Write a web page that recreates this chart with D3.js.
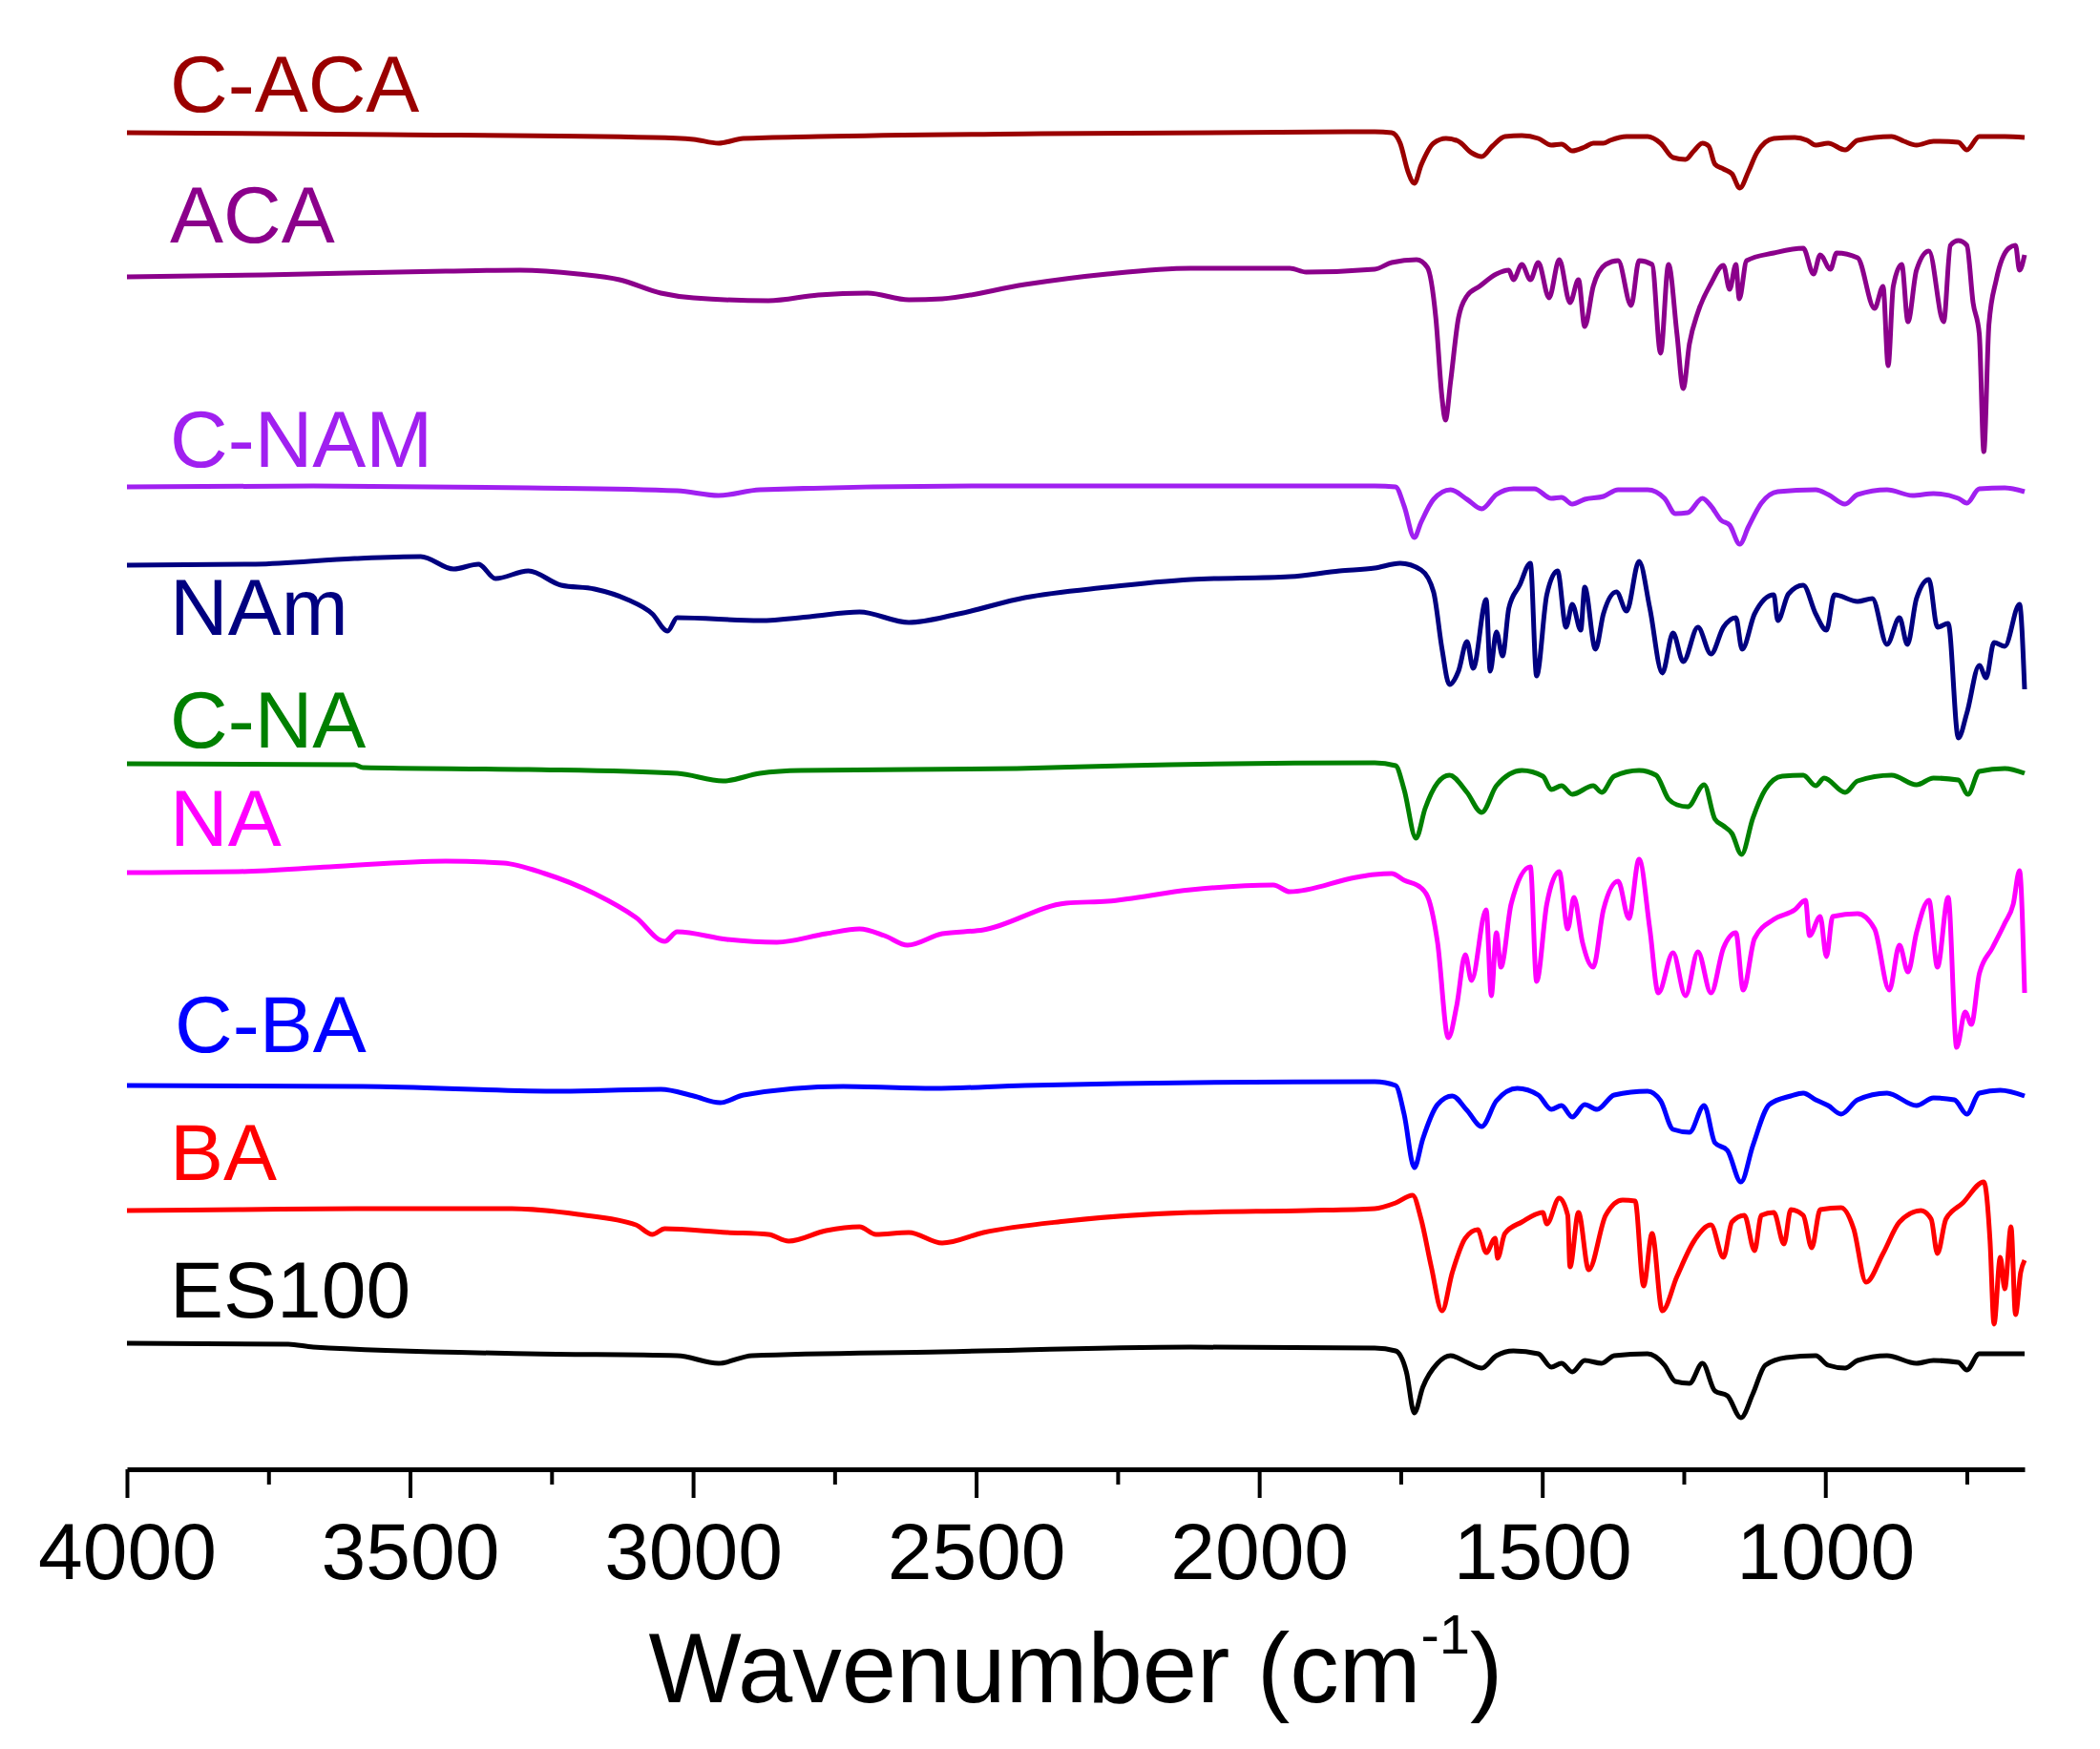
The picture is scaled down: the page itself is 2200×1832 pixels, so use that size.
<!DOCTYPE html>
<html>
<head>
<meta charset="utf-8">
<script src="https://cdn.jsdelivr.net/npm/d3@7"></script>
<style>
  html, body { margin: 0; padding: 0; background: #ffffff; }
  svg { display: block; }
</style>
</head>
<body>
<svg id="chart" width="2200" height="1832"></svg>
<script>
// ---------- DATA (wavenumber cm-1, stacked transmittance in a.u.) ----------
const seriesNames = ["C-ACA", "ACA", "C-NAM", "NAm", "C-NA", "NA", "C-BA", "BA", "ES100"];
const seriesColors = ["#9a0000", "#8b008b", "#a020f0", "#000080", "#008000", "#ff00ff", "#0000ff", "#ff0000", "#000000"];
const labelLevels = [142.3, 128.6, 105.1, 87.5, 75.7, 65.4, 43.8, 30.4, 16.0];

const xTicksMajor = [4000, 3500, 3000, 2500, 2000, 1500, 1000];
const xTicksMinor = [3750, 3250, 2750, 2250, 1750, 1250, 750];
const xTitle = "Wavenumber (cm";
const xTitleSup = "-1";

const specCACA = [[4000,140.1],[3540,139.9],[3072,139.6],[2999,139.4],[2955,139.0],[2911,139.5],[2779,139.7],[2385,140],[1796,140.2],[1766,140.1],[1751,139],[1737,136],[1726,134.8],[1714,136.7],[1692,139],[1670,139.5],[1648,139.2],[1625,138],[1607,137.6],[1588,138.7],[1566,139.7],[1536,139.8],[1507,139.5],[1484,138.8],[1466,138.9],[1447,138.2],[1425,138.6],[1410,139],[1392,139],[1380,139.3],[1351,139.7],[1314,139.7],[1291,139],[1269,137.5],[1247,137.3],[1232,138.2],[1217,139],[1206,138.7],[1195,136.8],[1180,136.3],[1165,135.8],[1151,134.3],[1136,136],[1121,138],[1091,139.5],[1054,139.6],[1032,139.3],[1017,138.8],[995,139],[965,138.3],[943,139.3],[883,139.7],[861,139.2],[839,138.8],[809,139.2],[765,139.1],[750,138.3],[728,139.7],[683,139.7],[648,139.6]];

const specACA = [[4000,125.0],[3759,125.2],[3437,125.6],[3306,125.7],[3203,125.3],[3130,124.7],[3057,123.3],[2999,122.8],[2867,122.5],[2779,123.1],[2692,123.3],[2619,122.6],[2560,122.7],[2414,124.2],[2268,125.3],[2121,125.9],[1946,125.9],[1917,125.5],[1796,125.8],[1766,126.5],[1722,126.8],[1703,126],[1688,120.7],[1677,112.3],[1671,110],[1662,114],[1648,120.7],[1633,123],[1611,124],[1581,125.3],[1559,125.7],[1551,124.7],[1536,126.3],[1521,124.7],[1507,126.5],[1488,122.8],[1470,126.8],[1451,122.3],[1436,124.7],[1425,119.8],[1410,124],[1388,126.3],[1366,126.7],[1343,122],[1329,126.7],[1306,126.3],[1291,117],[1277,126.3],[1262,119],[1251,113.3],[1240,118],[1225,121.3],[1202,124.3],[1180,126.2],[1169,123.7],[1158,126.3],[1152,122.7],[1139,126.7],[1091,127.5],[1039,128],[1021,125.3],[1009,127.3],[991,125.8],[980,127.5],[943,127],[913,121.7],[898,124],[889,115.7],[880,124],[865,126.3],[854,120.3],[839,125.7],[817,127.7],[791,120.3],[779,128.3],[765,128.8],[750,128.3],[739,122.3],[728,119],[720,106.7],[711,120],[698,124.7],[676,128],[664,128.3],[657,125.7],[648,127.3]];

const specCNAM = [[4000,103],[3671,103.1],[3291,102.9],[3028,102.6],[2955,102.1],[2882,102.7],[2487,103.1],[1796,103.1],[1759,103],[1744,101],[1726,97.7],[1714,99.3],[1692,101.7],[1662,102.7],[1633,101.7],[1607,100.7],[1581,102.2],[1551,102.8],[1514,102.8],[1484,101.8],[1466,101.9],[1447,101.2],[1425,101.7],[1392,102],[1366,102.7],[1314,102.7],[1284,101.8],[1265,100.2],[1243,100.3],[1217,101.8],[1202,101],[1184,99.5],[1169,99],[1151,97],[1136,98.8],[1113,101.3],[1084,102.5],[1017,102.7],[995,102.2],[965,101.2],[943,102.2],[891,102.7],[846,102.1],[809,102.3],[765,101.8],[750,101.3],[728,102.8],[683,102.9],[648,102.5]];

const specNAm = [[4000,94.8],[3773,94.9],[3598,95.5],[3481,95.7],[3423,94.4],[3379,94.9],[3349,93.4],[3291,94.2],[3233,92.7],[3174,92.3],[3116,91.2],[3072,89.7],[3045,87.9],[3028,89.3],[2882,89],[2794,89.4],[2706,89.9],[2619,88.8],[2531,89.7],[2414,91.4],[2268,92.5],[2121,93.3],[1946,93.6],[1858,94.2],[1796,94.5],[1751,95],[1714,94.3],[1692,92],[1677,86],[1664,82.3],[1648,83.7],[1633,86.8],[1622,84],[1599,91.2],[1592,83.7],[1581,87.8],[1570,85.3],[1559,90.3],[1540,92.7],[1521,95],[1510,83.2],[1492,91.7],[1473,94.2],[1458,88.3],[1447,90.7],[1432,88],[1425,92.5],[1406,86],[1392,89.7],[1369,92],[1351,90],[1329,95.2],[1310,90.3],[1288,83.5],[1269,87.7],[1251,84.7],[1225,88.3],[1202,85.5],[1180,88.3],[1158,89.3],[1147,86],[1125,89.7],[1091,91.7],[1084,89],[1065,91.8],[1039,92.7],[1017,89.7],[998,88],[984,91.7],[943,91],[917,91.3],[891,86.5],[869,89.3],[855,86.5],[839,91.3],[817,93.3],[802,88.3],[783,88.7],[765,76.7],[750,79.3],[728,84.3],[716,83],[702,86.7],[683,86.3],[657,90.7],[648,81.8]];

const specCNA = [[4000,74],[3598,73.9],[3583,73.6],[3291,73.4],[3028,73],[2947,72.2],[2882,73],[2809,73.3],[2428,73.5],[2238,73.8],[1796,74.1],[1759,73.8],[1744,71.3],[1723,66.2],[1707,69.3],[1685,72],[1664,72.8],[1633,71],[1607,68.9],[1581,71.7],[1536,73.3],[1499,72.7],[1484,71.3],[1466,71.7],[1447,70.8],[1410,71.7],[1395,71],[1373,72.7],[1329,73.3],[1299,72.8],[1277,70.3],[1262,69.7],[1243,69.5],[1214,71.8],[1195,68.2],[1180,67.5],[1165,66.7],[1148,64.5],[1128,68.3],[1106,71.3],[1076,72.7],[1039,72.8],[1017,71.7],[1002,72.5],[965,71],[943,72.2],[883,72.8],[839,71.8],[809,72.5],[765,72.3],[748,70.8],[728,73.2],[683,73.5],[648,73]];

const specNA = [[4000,62.6],[3803,62.7],[3642,63.2],[3437,63.8],[3335,63.6],[3262,62.5],[3174,60.4],[3101,57.9],[3050,55.4],[3028,56.4],[2940,55.6],[2852,55.3],[2765,56.2],[2706,56.7],[2662,56],[2621,55],[2560,56.2],[2487,56.6],[2341,59.4],[2268,59.6],[2121,60.8],[1975,61.3],[1946,60.6],[1829,62.1],[1796,62.4],[1766,62.5],[1744,61.8],[1714,61],[1700,59.7],[1685,55.3],[1666,45.3],[1651,48.7],[1636,54],[1625,51.3],[1599,58.7],[1590,49.7],[1581,56.3],[1573,52.7],[1555,59.3],[1521,63.2],[1510,51.2],[1492,59.3],[1470,62.7],[1455,56.7],[1444,60],[1429,55.3],[1410,52.7],[1392,58.7],[1366,61.7],[1347,57.8],[1329,64],[1310,56.7],[1295,50],[1269,54.2],[1247,49.7],[1225,54.3],[1202,50],[1180,54.7],[1158,56.3],[1145,50.3],[1125,55.7],[1091,57.7],[1054,58.7],[1035,59.7],[1028,56],[1009,58],[998,53.8],[987,58],[943,58.3],[913,56.7],[887,50.3],[869,55],[854,52.2],[839,56.3],[817,59.7],[802,52.7],[783,60],[768,44.3],[753,48],[742,46.7],[728,52],[705,54.7],[683,57.3],[668,59.3],[657,62.8],[648,50]];

const specCBA = [[4000,40.3],[3583,40.2],[3233,39.7],[3057,39.9],[2999,39.2],[2952,38.5],[2911,39.3],[2735,40.2],[2575,40],[2414,40.3],[1796,40.7],[1759,40.3],[1744,37.3],[1726,31.7],[1711,34.7],[1685,38.3],[1659,39.2],[1633,37.7],[1607,36],[1581,38.7],[1544,40],[1507,39.3],[1484,37.8],[1466,38.2],[1447,37],[1425,38.3],[1403,37.8],[1373,39.3],[1314,39.7],[1291,38.7],[1269,35.7],[1240,35.4],[1214,38.2],[1195,34.3],[1173,33.5],[1149,30.2],[1128,34],[1099,38.3],[1061,39.2],[1039,39.5],[1017,38.8],[995,38.2],[972,37.3],[943,38.8],[891,39.5],[839,38.2],[809,39],[772,38.8],[750,37.3],[728,39.5],[691,39.8],[648,39.2]];

const specBA = [[4000,27.2],[3803,27.3],[3583,27.4],[3320,27.4],[3203,26.8],[3101,25.7],[3072,24.7],[3050,25.3],[2940,24.9],[2867,24.7],[2831,24],[2765,25.1],[2706,25.5],[2677,24.7],[2619,24.9],[2560,23.8],[2487,24.9],[2341,26.1],[2121,27],[1917,27.2],[1796,27.4],[1759,28],[1729,28.8],[1714,26.3],[1696,21.3],[1677,16.7],[1659,20.7],[1636,24.3],[1614,25.2],[1599,22.8],[1583,24.3],[1579,22.2],[1566,24.8],[1536,26],[1499,27],[1492,25.8],[1470,28.5],[1455,26.7],[1451,21.3],[1436,27],[1418,21],[1388,26.7],[1358,28.3],[1336,28.2],[1321,19.3],[1306,24.8],[1288,16.7],[1262,20.3],[1232,24],[1202,25.7],[1180,22.3],[1165,26],[1143,26.7],[1125,23],[1113,26.7],[1091,27],[1073,23.7],[1061,27.3],[1039,26.7],[1024,23.3],[1009,27.3],[972,27.5],[950,25.3],[928,19.7],[898,22.7],[869,26],[831,27.2],[813,26.3],[802,22.7],[787,26.3],[757,28],[720,30.2],[709,24],[702,15.3],[691,22.3],[683,19],[672,25.5],[664,16.3],[655,20.7],[648,22]];

const specES100 = [[4000,13.3],[3715,13.2],[3671,12.9],[3291,12.2],[3028,12],[2955,11.2],[2896,12],[2560,12.4],[2121,12.9],[1796,12.8],[1759,12.5],[1740,10.3],[1726,6],[1711,8.7],[1685,11.2],[1662,12],[1633,11.3],[1607,10.7],[1581,12],[1551,12.5],[1507,12.2],[1484,10.8],[1466,11.2],[1447,10.3],[1425,11.5],[1395,11.2],[1373,12],[1314,12.2],[1284,11],[1265,9.3],[1240,9.1],[1217,11.2],[1195,8.3],[1173,7.8],[1149,5.5],[1128,8],[1106,11],[1069,11.8],[1017,12],[995,11],[965,10.7],[943,11.5],[891,12],[839,11.2],[809,11.5],[765,11.3],[750,10.5],[728,12.2],[648,12.2]];

const spectra = [specCACA, specACA, specCNAM, specNAm, specCNA, specNA, specCBA, specBA, specES100];

// ---------- LAYOUT ----------
const W = 2200, H = 1832;
const left = 133, right = 2121, axisY = 1539;
const fontFam = "'Liberation Sans', Arial, 'Helvetica', sans-serif";

const svg = d3.select("#chart");
svg.append("rect").attr("width", W).attr("height", H).attr("fill", "#ffffff");

const x = d3.scaleLinear().domain([4000, 648]).range([left, right]);
const y = d3.scaleLinear().domain([0, 154]).range([1540, 0]);

const line = d3.line().x(d => x(d[0])).y(d => y(d[1])).curve(d3.curveMonotoneX);

const g = svg.append("g");
spectra.forEach((s, i) => {
  g.append("path")
    .datum(s)
    .attr("d", line)
    .attr("fill", "none")
    .attr("stroke", seriesColors[i])
    .attr("stroke-width", 5)
    .attr("stroke-linejoin", "round")
    .attr("stroke-linecap", "butt");
});

// Series labels
seriesNames.forEach((name, i) => {
  svg.append("text")
    .attr("x", name === "C-BA" ? 183 : 178)
    .attr("y", y(labelLevels[i]))
    .attr("fill", seriesColors[i])
    .attr("font-family", fontFam)
    .attr("font-size", 84)
    .text(name);
});

// X axis (major)
const axisMajor = d3.axisBottom(x).tickValues(xTicksMajor).tickSize(30).tickSizeOuter(0).tickPadding(25)
  .tickFormat(d3.format("d"));
const ax = svg.append("g").attr("transform", `translate(0,${axisY})`).call(axisMajor);
ax.select(".domain").attr("stroke", "#000").attr("stroke-width", 5);
ax.selectAll(".tick line").attr("stroke", "#000").attr("stroke-width", 4);
ax.selectAll(".tick text")
  .attr("fill", "#000")
  .attr("font-family", fontFam)
  .attr("font-size", 84);

// X axis (minor)
const axisMinor = d3.axisBottom(x).tickValues(xTicksMinor).tickSize(16).tickSizeOuter(0).tickFormat("");
const axm = svg.append("g").attr("transform", `translate(0,${axisY})`).call(axisMinor);
axm.select(".domain").remove();
axm.selectAll(".tick line").attr("stroke", "#000").attr("stroke-width", 4);

// Axis title
const title = svg.append("text")
  .attr("x", (left + right) / 2)
  .attr("y", 1783)
  .attr("text-anchor", "middle")
  .attr("font-family", fontFam)
  .attr("font-size", 103)
  .attr("fill", "#000");
title.append("tspan").text(xTitle);
title.append("tspan").attr("font-size", 58).attr("dy", -51).text(xTitleSup);
title.append("tspan").attr("dy", 51).text(")");
</script>
</body>
</html>
